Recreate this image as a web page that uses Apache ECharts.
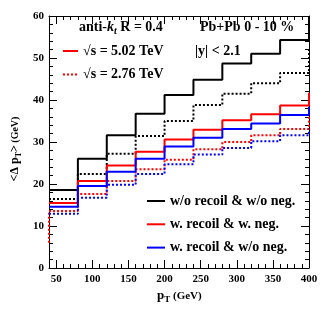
<!DOCTYPE html>
<html><head><meta charset="utf-8">
<script src="https://cdn.jsdelivr.net/npm/echarts@6/dist/echarts.min.js"></script>
<style>html,body{margin:0;padding:0;background:#fff}#c{width:327px;height:317px}</style>
</head><body><div id="c"></div>
<script>
// ---- data ----
const binEdges = [40, 80, 120, 160, 200, 240, 280, 320, 360, 400];
// sqrt(s)=5.02 TeV (solid) and 2.76 TeV (dotted)
const noRecoilNoNeg502 = [18.6, 26.0, 31.6, 36.7, 41.2, 44.8, 48.7, 51.0, 54.3];
const noRecoilNoNeg276 = [16.4, 22.4, 27.2, 31.4, 35.0, 38.8, 41.5, 44.0, 46.4];
const recoilNeg502 = [15.5, 20.7, 24.4, 27.7, 30.6, 32.9, 35.2, 36.6, 38.7];
const recoilNeg276 = [13.6, 17.6, 20.7, 23.5, 25.8, 28.3, 30.0, 31.6, 33.1];
const recoilNoNeg502 = [14.6, 19.5, 22.9, 26.0, 28.9, 31.0, 33.1, 34.4, 36.4];
const recoilNoNeg276 = [12.9, 16.7, 19.8, 22.4, 24.7, 27.0, 28.6, 30.2, 31.6];
// neighbouring bins just outside the plotted range (only their edges show)
const nextBin = { k502: 60, k276: 52, rn502: 41.7, rn276: 36.0, rnn502: 38.4, rnn276: 33.0 };
const prevBinRecoilNeg276 = 6;
const xMajorTicks = [50, 100, 150, 200, 250, 300, 350, 400];
const yTicks = [0, 10, 20, 30, 40, 50, 60];
const legendNames = ['w/o recoil & w/o neg.', 'w. recoil & w. neg.', 'w. recoil & w/o neg.'];
const energyNames = ['\u221As = 5.02 TeV', '\u221As = 2.76 TeV'];

function stepData(vals, next, prev) {
  const d = [];
  if (prev != null) d.push([binEdges[0], prev]);
  vals.forEach((v, i) => d.push([binEdges[i], v]));
  d.push([binEdges[binEdges.length - 1], next]);
  return d;
}
const FF = "'Liberation Serif','Times New Roman',serif";
const DOT = [2, 2];
function ser(name, data, color, dotted, z) {
  return { type: 'line', name, data, step: 'end', symbol: 'none', showSymbol: false,
    xAxisIndex: 0, yAxisIndex: 0, clip: true, z: z || 2,
    lineStyle: { color, width: 2, type: dotted ? DOT : 'solid' }, itemStyle: { color } };
}
const tickStyle = { color: '#000', width: 1 };
const chart = echarts.init(document.getElementById('c'), null, { renderer: 'canvas' });
chart.setOption({
  animation: false,
  backgroundColor: '#fff',
  grid: [
    { left: 49, right: 18, top: 16, bottom: 49, containLabel: false },
    { left: 49, right: 18, top: 16, bottom: 49, containLabel: false }
  ],
  xAxis: [
    { gridIndex: 0, type: 'value', min: 40, max: 400, position: 'bottom',
      axisLine: { show: true, onZero: false, lineStyle: { color: '#000', width: 1 } },
      axisTick: { show: true, inside: true, length: 8, customValues: xMajorTicks, lineStyle: tickStyle },
      axisLabel: { show: true, customValues: xMajorTicks, color: '#000', fontSize: 11, fontWeight: 'bold', fontFamily: FF, margin: 6 },
      splitLine: { show: false } },
    { gridIndex: 0, type: 'value', min: 40, max: 400, position: 'top',
      axisLine: { show: true, onZero: false, lineStyle: { color: '#000', width: 1 } },
      axisTick: { show: true, inside: true, length: 8, customValues: xMajorTicks, lineStyle: tickStyle },
      axisLabel: { show: false }, splitLine: { show: false } },
    { gridIndex: 1, type: 'value', min: 40, max: 400, interval: 10, position: 'bottom',
      axisLine: { show: false, onZero: false }, axisTick: { show: true, inside: true, length: 4, lineStyle: tickStyle },
      axisLabel: { show: false }, splitLine: { show: false } },
    { gridIndex: 1, type: 'value', min: 40, max: 400, interval: 10, position: 'top',
      axisLine: { show: false, onZero: false }, axisTick: { show: true, inside: true, length: 4, lineStyle: tickStyle },
      axisLabel: { show: false }, splitLine: { show: false } }
  ],
  yAxis: [
    { gridIndex: 0, type: 'value', min: 0, max: 60, interval: 10, position: 'left',
      axisLine: { show: true, onZero: false, lineStyle: { color: '#000', width: 1 } },
      axisTick: { show: true, inside: true, length: 8, lineStyle: tickStyle },
      minorTick: { show: true, splitNumber: 5, length: 4, lineStyle: tickStyle },
      axisLabel: { show: true, color: '#000', fontSize: 11, fontWeight: 'bold', fontFamily: FF, margin: 5 },
      splitLine: { show: false } },
    { gridIndex: 0, type: 'value', min: 0, max: 60, interval: 10, position: 'right',
      axisLine: { show: true, onZero: false, lineStyle: { color: '#000', width: 1 } },
      axisTick: { show: true, inside: true, length: 8, lineStyle: tickStyle },
      minorTick: { show: true, splitNumber: 5, length: 4, lineStyle: tickStyle },
      axisLabel: { show: false }, splitLine: { show: false } },
    { gridIndex: 1, type: 'value', min: 0, max: 60, show: false }
  ],
  legend: [
    { data: legendNames, orient: 'vertical', left: 146, top: 194, padding: 0, itemWidth: 18, itemHeight: 14, itemGap: 9.3,
      itemStyle: { opacity: 0 },
      textStyle: { color: '#000', fontSize: 14, fontWeight: 'bold', fontFamily: FF }, selectedMode: false },
    { data: energyNames, orient: 'vertical', left: 62, top: 44, padding: 0, itemWidth: 15, itemHeight: 14, itemGap: 9.5,
      itemStyle: { opacity: 0 },
      textStyle: { color: '#000', fontSize: 14, fontWeight: 'bold', fontFamily: FF }, selectedMode: false }
  ],
  series: [
    ser('w/o recoil & w/o neg. 2.76', stepData(noRecoilNoNeg276, nextBin.k276), '#000', true, 2),
    ser('w. recoil & w. neg. 2.76', stepData(recoilNeg276, nextBin.rn276, prevBinRecoilNeg276), '#ff0000', true, 2),
    ser('w. recoil & w/o neg. 2.76', stepData(recoilNoNeg276, nextBin.rnn276), '#0000ff', true, 2),
    ser(legendNames[0], stepData(noRecoilNoNeg502, nextBin.k502), '#000', false, 3),
    ser(legendNames[1], stepData(recoilNeg502, nextBin.rn502), '#ff0000', false, 3),
    ser(legendNames[2], stepData(recoilNoNeg502, nextBin.rnn502), '#0000ff', false, 3),
    ser(energyNames[0], [], '#ff0000', false, 1),
    ser(energyNames[1], [], '#ff0000', true, 1)
  ],
  graphic: [
    { type: 'text', x: 79, y: 27, style: { text: '{a|anti-}{k|k}{s|t}{a| R = 0.4}', verticalAlign: 'middle', align: 'left',
      rich: { a: { fontSize: 14, fontWeight: 'bold', fontFamily: FF, fill: '#000' },
              k: { fontSize: 14, fontWeight: 'bold', fontStyle: 'italic', fontFamily: FF, fill: '#000' },
              s: { fontSize: 10, fontWeight: 'bold', fontStyle: 'italic', fontFamily: FF, fill: '#000', padding: [8, 0, 0, 0] } } } },
    { type: 'text', x: 200, y: 27, style: { text: 'Pb+Pb 0 - 10 %', verticalAlign: 'middle', align: 'left',
      font: "bold 14px 'Liberation Serif', serif", fill: '#000' } },
    { type: 'text', x: 195, y: 51, style: { text: '|y| < 2.1', verticalAlign: 'middle', align: 'left',
      font: "bold 14px 'Liberation Serif', serif", fill: '#000' } },
    { type: 'text', x: 157, y: 296, style: { text: '{p|p}{s|T}{g| (GeV)}', verticalAlign: 'middle', align: 'left',
      rich: { p: { fontSize: 13, fontWeight: 'bold', fontFamily: FF, fill: '#000' },
              s: { fontSize: 9, fontWeight: 'bold', fontFamily: FF, fill: '#000', padding: [8, 0, 0, 0] },
              g: { fontSize: 11, fontWeight: 'bold', fontFamily: FF, fill: '#000' } } } },
    { type: 'text', x: 15, y: 149, rotation: Math.PI / 2, style: { text: '{p|<\u0394 p}{s|T}{p|>}{g| (GeV)}', verticalAlign: 'middle', align: 'center',
      rich: { p: { fontSize: 12, fontWeight: 'bold', fontFamily: FF, fill: '#000' },
              s: { fontSize: 8, fontWeight: 'bold', fontFamily: FF, fill: '#000', padding: [7, 0, 0, 0] },
              g: { fontSize: 10, fontWeight: 'bold', fontFamily: FF, fill: '#000' } } } }
  ]
});
</script></body></html>
